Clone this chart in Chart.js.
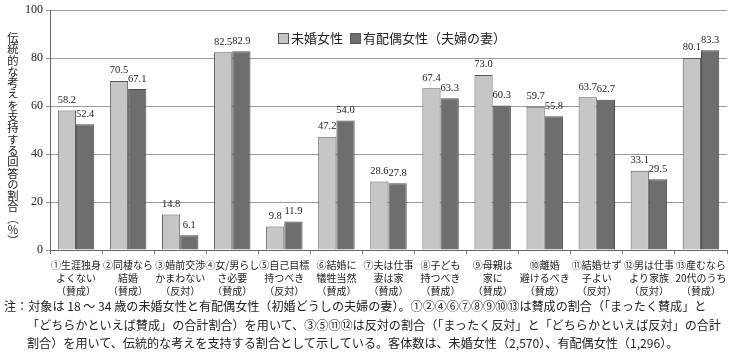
<!DOCTYPE html>
<html>
<head>
<meta charset="utf-8">
<script src="https://cdn.jsdelivr.net/npm/chart.js@4"></script>
<style>
  body { margin: 0; background: #fff; }
  #wrap { position: relative; width: 736px; height: 354px; font-family: "Noto Sans CJK JP", sans-serif; color: #222; }
  #yTitle { position: absolute; left: 6px; top: 32px; writing-mode: vertical-rl; text-orientation: upright; font-size: 11.3px; line-height: 14px; }
  #legend { position: absolute; left: 278px; top: 28px; font-size: 13px; white-space: nowrap; }
  #legend span.box { display: inline-block; width: 9px; height: 9px; border: 1px solid #555; margin-right: 2px; vertical-align: -1px; }
  #note { position: absolute; left: 4px; top: 297px; font-size: 12.1px; line-height: 18.5px; white-space: nowrap; }
  #note div.ind { padding-left: 23px; }
</style>
</head>
<body>
<div id="wrap">
  <canvas id="chart" width="736" height="354"></canvas>
  <div id="yTitle">伝統的な考えを支持する回答の割合（％）</div>
  <div id="legend"><span class="box" style="background:#c6c6c6"></span>未婚女性 <span class="box" style="background:#6e6e6e;margin-left:4px"></span>有配偶女性（夫婦の妻）</div>
  <div id="note">
    <div>注：対象は 18 ～ 34 歳の未婚女性と有配偶女性（初婚どうしの夫婦の妻）。①②④⑥⑦⑧⑨⑩⑬は賛成の割合（「まったく賛成」と</div>
    <div class="ind">「どちらかといえば賛成」の合計割合）を用いて、③⑤⑪⑫は反対の割合（「まったく反対」と「どちらかといえば反対」の合計</div>
    <div class="ind">割合）を用いて、伝統的な考えを支持する割合として示している。客体数は、未婚女性（2,570）、有配偶女性（1,296）。</div>
  </div>
</div>
<script>
const categories = [
  ['①生涯独身', 'よくない', '（賛成）'],
  ['②同棲なら', '結婚', '（賛成）'],
  ['③婚前交渉', 'かまわない', '（反対）'],
  ['④女/男らし', 'さ必要', '（賛成）'],
  ['⑤自己目標', '持つべき', '（反対）'],
  ['⑥結婚に', '犠牲当然', '（賛成）'],
  ['⑦夫は仕事', '妻は家', '（賛成）'],
  ['⑧子ども', '持つべき', '（賛成）'],
  ['⑨母親は', '家に', '（賛成）'],
  ['⑩離婚', '避けるべき', '（賛成）'],
  ['⑪結婚せず', '子よい', '（反対）'],
  ['⑫男は仕事', 'より家族', '（反対）'],
  ['⑬産むなら', '20代のうち', '（賛成）']
];
const unmarried = [58.2, 70.5, 14.8, 82.5, 9.8, 47.2, 28.6, 67.4, 73.0, 59.7, 63.7, 33.1, 80.1];
const married = [52.4, 67.1, 6.1, 82.9, 11.9, 54.0, 27.8, 63.3, 60.3, 55.8, 62.7, 29.5, 83.3];
const yTicks = [0, 20, 40, 60, 80, 100];

// value labels above each bar
const valueLabels = {
  id: 'valueLabels',
  afterDatasetsDraw(chart) {
    const ctx = chart.ctx;
    ctx.save();
    ctx.font = '10.5px "Liberation Serif", serif';
    ctx.fillStyle = '#222';
    ctx.textAlign = 'center';
    ctx.textBaseline = 'bottom';
    chart.data.datasets.forEach((ds, i) => {
      chart.getDatasetMeta(i).data.forEach((bar, j) => {
        ctx.fillText(ds.data[j].toFixed(1), bar.x, bar.y - 5);
      });
    });
    ctx.restore();
  }
};

new Chart(document.getElementById('chart'), {
  type: 'bar',
  data: {
    labels: categories,
    datasets: [
      { label: '未婚女性', data: unmarried, backgroundColor: '#c6c6c6', borderColor: '#5a5a5a', borderWidth: 1 },
      { label: '有配偶女性（夫婦の妻）', data: married, backgroundColor: '#6e6e6e', borderColor: '#4a4a4a', borderWidth: 1 }
    ]
  },
  options: {
    responsive: false,
    animation: false,
    layout: { padding: { top: 10, right: 9, left: 0, bottom: 0 } },
    plugins: { legend: { display: false }, tooltip: { enabled: false } },
    datasets: { bar: { categoryPercentage: 0.7, barPercentage: 1.0 } },
    scales: {
      x: {
        afterFit(scale) { scale.height = 104; },
        grid: { drawOnChartArea: false, drawTicks: true, tickLength: 4, color: '#777' },
        border: { color: '#666' },
        ticks: {
          maxRotation: 0, autoSkip: false, padding: 5, color: '#222',
          font: { family: '"Noto Sans CJK JP", sans-serif', size: 10, lineHeight: 1.3 }
        }
      },
      y: {
        min: 0, max: 100,
        afterFit(scale) { scale.width = 50; },
        afterBuildTicks(scale) { scale.ticks = yTicks.map(v => ({ value: v })); },
        grid: { color: '#999', tickLength: 4 },
        border: { color: '#666' },
        ticks: { padding: 3, color: '#222', font: { family: '"Liberation Serif", serif', size: 12 } }
      }
    }
  },
  plugins: [valueLabels]
});
</script>
</body>
</html>
